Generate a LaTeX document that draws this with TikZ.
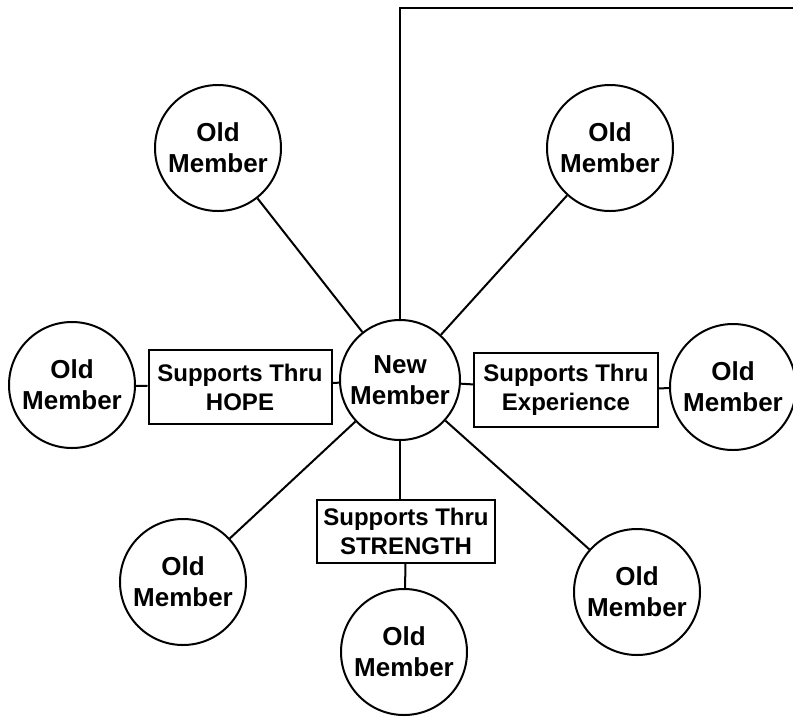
\documentclass[tikz,border=0pt]{standalone}
\usepackage{fontspec}
\setmainfont{Liberation Sans}
\usetikzlibrary{positioning}

\begin{document}
\begin{tikzpicture}[x=1pt, y=-1pt,
        member/.style={circle, draw=black, line width=2pt, minimum size=126pt, inner sep=0pt, align=center, font=\fontsize{26}{31}\selectfont\bfseries},
        support/.style={rectangle, draw=black, line width=2pt, minimum width=183pt, minimum height=74pt, inner sep=2pt, align=center, font=\fontsize{24}{29}\selectfont\bfseries},
        link/.style={line width=2pt}
    ]
    \useasboundingbox (0,0) rectangle (793,716);

    % New member in the middle
    \node[member, minimum size=120pt] (new_member) at (400,380) {New\\Member};

    % Old members around it
    \node[member] (old_top_left) at (218,148) {Old\\Member};
    \node[member] (old_top_right) at (610,148) {Old\\Member};
    \node[member] (old_left) at (72,385) {Old\\Member};
    \node[member] (old_right) at (733,387) {Old\\Member};
    \node[member] (old_bottom_left) at (183,582) {Old\\Member};
    \node[member] (old_bottom_right) at (637,592) {Old\\Member};
    \node[member] (old_bottom) at (404,652) {Old\\Member};

    % Supports boxes
    \node[support] (hope) at (240,387) {Supports Thru\\HOPE};
    \node[support, minimum width=184pt] (experience) at (566,390) {Supports Thru\\Experience};
    \node[support, minimum width=178pt, minimum height=63pt] (strength) at (406,531) {Supports Thru\\STRENGTH};

    % Line up to the top and along it
    \coordinate (top_corner) at (400,8);
    \coordinate (top_end) at (793,8);
    \draw[link] (new_member.north) -- (top_corner) -- (top_end);

    % Spokes
    \draw[link] (new_member) -- (old_top_left);
    \draw[link] (new_member) -- (old_top_right);
    \draw[link] (new_member) -- (old_bottom_left);
    \draw[link] (new_member) -- (old_bottom_right);

    % Through the boxes
    \draw[link] (old_left) -- (hope);
    \draw[link] (hope) -- (new_member);
    \draw[link] (new_member) -- (experience);
    \draw[link] (experience) -- (old_right);
    \draw[link] (new_member.south) -- (new_member.south |- strength.north);
    \draw[link] (strength) -- (old_bottom);

\end{tikzpicture}
\end{document}
